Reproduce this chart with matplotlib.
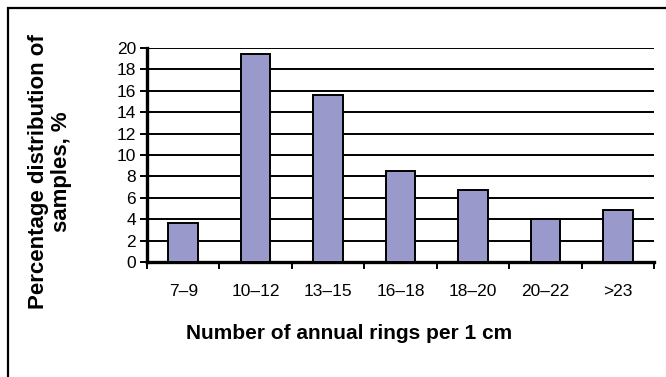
import matplotlib
matplotlib.use('Agg')
import matplotlib.pyplot as plt
from matplotlib.patches import Rectangle

# Data
categories = ['7–9', '10–12', '13–15', '16–18', '18–20', '20–22', '>23']
percent = [3.6, 19.4, 15.6, 8.5, 6.7, 4.0, 4.9]
y_ticks = [0, 2, 4, 6, 8, 10, 12, 14, 16, 18, 20]

plt.rcParams['font.family'] = ['Liberation Sans', 'DejaVu Sans']

fig = plt.figure(figsize=(6.66, 3.77), dpi=100)
ax = fig.add_axes([0.2207, 0.305, 0.982 - 0.2207, 0.8727 - 0.305])

x = list(range(len(categories)))
ax.bar(x, percent, width=0.41, color='#9999cc', edgecolor='black',
       linewidth=1.4, zorder=3)

# horizontal grid lines
ax.set_ylim(0, 20)
ax.set_yticks(y_ticks)
ax.yaxis.grid(True, color='black', linewidth=1.4, zorder=0)
ax.set_axisbelow(True)

# x ticks sit on category boundaries, labels at centres
ax.set_xlim(-0.5, len(categories) - 0.5)
ax.set_xticks([i - 0.5 for i in range(len(categories) + 1)])
ax.set_xticklabels([])
ax.set_xticks(x, minor=True)
ax.set_xticklabels(categories, minor=True, fontsize=12.5)
ax.tick_params(axis='x', which='minor', length=0, pad=16)
ax.tick_params(axis='x', which='major', length=5, width=1.4, direction='out')
ax.tick_params(axis='y', length=5, width=1.4, direction='out', labelsize=12.5, pad=3)

for side in ['top', 'right']:
    ax.spines[side].set_visible(False)
ax.spines['left'].set_linewidth(2.4)
ax.spines['bottom'].set_linewidth(2.4)

fig.text(0.075, 0.544, 'Percentage distribution of\nsamples, %', rotation=90,
         ha='center', va='center', multialignment='center',
         fontsize=16, fontweight='bold', linespacing=1.1)
fig.text(0.524, 0.115, 'Number of annual rings per 1 cm', ha='center',
         va='center', fontsize=15, fontweight='bold')

# outer frame, cut off at right and bottom edges
fig.patches.append(Rectangle((7.5 / 666, -0.1), 1.2, 1 - 7.5 / 377 + 0.1,
                             transform=fig.transFigure, fill=False,
                             edgecolor='black', linewidth=1.6))

fig.savefig('out.png', dpi=100)
